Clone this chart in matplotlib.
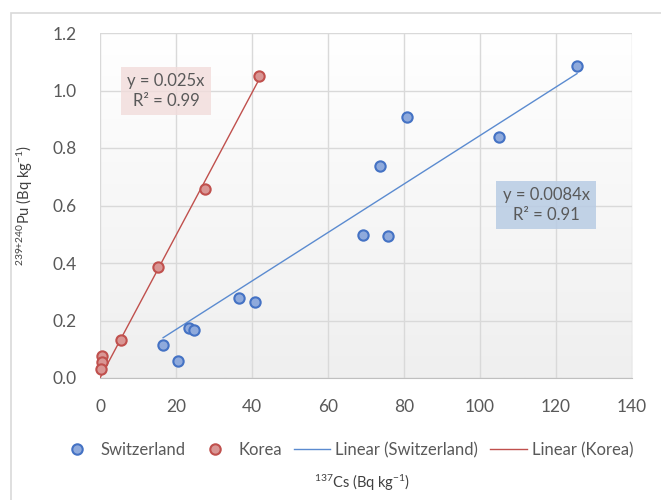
import numpy as np
import matplotlib
matplotlib.use("Agg")
import matplotlib.pyplot as plt
from matplotlib.lines import Line2D

plt.rcParams['font.family'] = ['Lato', 'DejaVu Sans']
plt.rcParams['mathtext.fontset'] = 'custom'
plt.rcParams['mathtext.rm'] = 'Lato'
plt.rcParams['mathtext.it'] = 'Lato'
plt.rcParams['mathtext.default'] = 'regular'

# data
swiss_cs = [125.5, 80.7, 105.0, 73.6, 69.1, 75.8, 36.6, 40.8, 23.4, 24.7, 16.6, 20.6]
swiss_pu = [1.086, 0.909, 0.84, 0.737, 0.497, 0.494, 0.279, 0.265, 0.175, 0.168, 0.116, 0.059]
korea_cs = [41.7, 27.6, 15.3, 5.6, 0.6, 0.6, 0.2]
korea_pu = [1.05, 0.658, 0.385, 0.132, 0.078, 0.055, 0.03]

x_ticks = [0, 20, 40, 60, 80, 100, 120, 140]
y_ticks = [0.0, 0.2, 0.4, 0.6, 0.8, 1.0, 1.2]

txt = '#595959'
blue_edge, blue_fill = '#4472C4', '#8FAADC'
red_edge, red_fill = '#C0504D', '#D99694'

fig = plt.figure(figsize=(6.61, 5.0), dpi=100)
ax = fig.add_axes([0.1513, 0.244, 0.805, 0.69])

# outer chart frame (only left and top edges visible)
fig.add_artist(plt.Rectangle((11 / 661, -0.02), 1.0, 1 - 13 / 500 + 0.02,
                             transform=fig.transFigure, fill=False,
                             edgecolor='#D9D9D9', lw=1.2))

# gradient plot area
grad = np.linspace(1, 0, 256).reshape(-1, 1)
ax.imshow(grad, extent=[0, 1, 0, 1], transform=ax.transAxes, aspect='auto',
          cmap=matplotlib.colors.LinearSegmentedColormap.from_list(
              'g', ['#EFEFEF', '#FFFFFF']), zorder=0)

ax.set_xlim(0, 140)
ax.set_ylim(0, 1.2)
ax.set_xticks(x_ticks)
ax.set_yticks(y_ticks)
ax.set_yticklabels(['%.1f' % v for v in y_ticks])
ax.tick_params(length=0, labelsize=12.5, labelcolor=txt)
ax.tick_params(axis='x', pad=15)
ax.tick_params(axis='y', pad=17)
ax.grid(True, color='#D9D9D9', lw=1)
ax.set_axisbelow(True)
for s in ['top', 'right', 'left']:
    ax.spines[s].set_visible(False)
ax.spines['bottom'].set_color('#BFBFBF')

# trend lines through origin
sx, sy = np.array(swiss_cs), np.array(swiss_pu)
kx, ky = np.array(korea_cs), np.array(korea_pu)
ks = (sx * sy).sum() / (sx * sx).sum()
kk = (kx * ky).sum() / (kx * kx).sum()
xs = np.array([sx.min(), sx.max()])
xk = np.array([0, kx.max()])
ax.plot(xs, ks * xs, color='#5B8BD0', lw=1, zorder=2)
ax.plot(xk, kk * xk, color=red_edge, lw=1, zorder=2)

ax.scatter(swiss_cs, swiss_pu, s=55, facecolor=blue_fill, edgecolor=blue_edge,
           linewidth=1.5, zorder=3, clip_on=False)
ax.scatter(korea_cs, korea_pu, s=55, facecolor=red_fill, edgecolor=red_edge,
           linewidth=1.5, zorder=3, clip_on=False)

ax.text(17.4, 0.998, 'y = 0.025x\nR² = 0.99', ha='center', va='center',
        fontsize=12, color=txt, multialignment='center', zorder=4,
        linespacing=1.25,
        bbox=dict(boxstyle='square,pad=0.4', facecolor='#F2DCDB',
                  edgecolor='none', alpha=0.8))
ax.text(117.4, 0.602, 'y = 0.0084x\nR² = 0.91', ha='center', va='center',
        fontsize=12, color=txt, multialignment='center', zorder=4,
        linespacing=1.25,
        bbox=dict(boxstyle='square,pad=0.4', facecolor='#B8CCE4',
                  edgecolor='none', alpha=0.85))

ax.set_ylabel(r'$^{239{+}240}$Pu (Bq kg$^{-1}$)', fontsize=10.5, color='#404040',
              labelpad=12)
fig.text(0.548, 0.034, r'$^{137}$Cs (Bq kg$^{-1}$)', ha='center', va='center',
         fontsize=10.5, color='#404040')

handles = [
    Line2D([], [], ls='none', marker='o', ms=7.5, mfc=blue_fill, mec=blue_edge, mew=1.5),
    Line2D([], [], ls='none', marker='o', ms=7.5, mfc=red_fill, mec=red_edge, mew=1.5),
    Line2D([], [], color='#5B8BD0', lw=1),
    Line2D([], [], color=red_edge, lw=1),
]
labels = ['Switzerland', 'Korea', 'Linear (Switzerland)', 'Linear (Korea)']
fig.legend(handles, labels, loc='center', bbox_to_anchor=(0.523, 0.1), ncol=4,
           frameon=False, fontsize=12, labelcolor=txt, handlelength=2.2,
           columnspacing=0.7, handletextpad=0.3)

fig.savefig('out.png', dpi=100)
